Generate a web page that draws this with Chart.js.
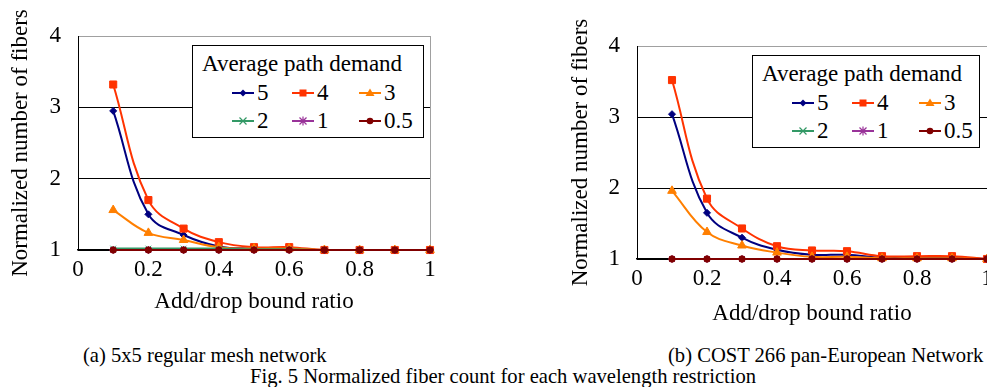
<!DOCTYPE html>
<html>
<head>
<meta charset="utf-8">
<script src="https://cdn.jsdelivr.net/npm/chart.js@4"></script>
<style>
  body { margin: 0; width: 987px; height: 387px; overflow: hidden; position: relative; background: #fff; font-family: 'Liberation Serif', serif; color: #000; }
  canvas { position: absolute; }
  .legend { position: absolute; background: #fff; border: 1.5px solid #000; box-sizing: border-box; }
  .legend span { position: absolute; white-space: nowrap; font-size: 23px; line-height: 23px; }
  .legend svg { position: absolute; }
  .caption { position: absolute; white-space: nowrap; font-size: 20.6px; line-height: 20px; }
</style>
</head>
<body>
<canvas class="meshChart" width="450" height="320" style="left:0;top:0"></canvas>
<canvas class="costChart" width="490" height="330" style="left:520px;top:0"></canvas>
<div class="legend meshLegend" style="left:192px;top:45px;width:232px;height:93px"></div>
<div class="legend costLegend" style="left:752px;top:55px;width:228px;height:93px"></div>
<div class="caption" style="left:83px;top:345px">(a) 5x5 regular mesh network</div>
<div class="caption" style="left:668px;top:345px">(b) COST 266 pan-European Network</div>
<div class="caption" style="left:250px;top:366px">Fig. 5 Normalized fiber count for each wavelength restriction</div>

<script>
const meshChart = document.querySelector('.meshChart');
const costChart = document.querySelector('.costChart');

// add/drop bound ratio on the x axis
const ratios = [0.1, 0.2, 0.3, 0.4, 0.5, 0.6, 0.7, 0.8, 0.9, 1.0];
const demands = ['5', '4', '3', '2', '1', '0.5'];
const xTicks = [0, 0.2, 0.4, 0.6, 0.8, 1];
const yTicks = [1, 2, 3, 4];

// (a) 5x5 regular mesh network
const mesh5 = [2.95, 1.50, 1.21, 1.05, 1.02, 1.01, 1.00, 1.00, 1.00, 1.00];
const mesh4 = [3.32, 1.70, 1.30, 1.11, 1.04, 1.04, 1.00, 1.00, 1.00, 1.00];
const mesh3 = [1.56, 1.24, 1.14, 1.04, 1.02, 1.02, 1.00, 1.00, 1.00, 1.00];
const mesh2 = [1.02, 1.02, 1.02, 1.02, 1.01, 1.01, 1.00, 1.00, 1.00, 1.00];
const mesh1 = [1.00, 1.00, 1.00, 1.00, 1.00, 1.00, 1.00, 1.00, 1.00, 1.00];
const mesh05 = [1.00, 1.00, 1.00, 1.00, 1.00, 1.00, 1.00, 1.00, 1.00, 1.00];

// (b) COST 266 pan-European network
const cost5 = [3.04, 1.65, 1.30, 1.13, 1.06, 1.06, 1.02, 1.02, 1.02, 1.00];
const cost4 = [3.52, 1.85, 1.43, 1.18, 1.12, 1.11, 1.04, 1.04, 1.04, 1.00];
const cost3 = [1.96, 1.38, 1.19, 1.09, 1.03, 1.03, 1.01, 1.01, 1.01, 1.00];
const cost2 = [1.00, 1.00, 1.00, 1.00, 1.00, 1.00, 1.00, 1.00, 1.00, 1.00];
const cost1 = [1.00, 1.00, 1.00, 1.00, 1.00, 1.00, 1.00, 1.00, 1.00, 1.00];
const cost05 = [1.00, 1.00, 1.00, 1.00, 1.00, 1.00, 1.00, 1.00, 1.00, 1.00];

const colors = ['#000080', '#ff3300', '#ff7f00', '#339966', '#993399', '#800000'];
const markers = ['rectRot', 'rect', 'triangle', 'crossRot', 'star', 'circle'];
const markerSizes = [3.5, 5, 5, 4, 4, 3.2];

Chart.defaults.font.family = "'Liberation Serif', serif";
Chart.defaults.color = '#000';

function makeDatasets(series) {
    return series.map((values, i) => ({
        label: demands[i],
        data: values.map((v, j) => ({ x: ratios[j], y: v })),
        borderColor: colors[i],
        backgroundColor: colors[i],
        borderWidth: 2,
        pointStyle: markers[i],
        pointRadius: markerSizes[i],
        pointBorderWidth: 1,
        tension: 0.4,
        order: series.length - i,
        clip: 10
    }));
}

function drawChart(canvas, series, box) {
    new Chart(canvas, {
        type: 'line',
        data: { datasets: makeDatasets(series) },
        options: {
            responsive: false,
            animation: false,
            layout: { padding: { top: box.top, right: box.right, left: 0, bottom: 0 } },
            plugins: { legend: { display: false }, tooltip: { enabled: false } },
            scales: {
                x: {
                    type: 'linear',
                    min: 0,
                    max: 1,
                    afterBuildTicks: s => { s.ticks = xTicks.map(v => ({ value: v })); },
                    afterFit: s => { s.height = box.xHeight; },
                    ticks: {
                        font: { size: 23 },
                        padding: 6,
                        maxRotation: 0,
                        callback: v => (v === 0 || v === 1) ? String(v) : v.toFixed(1)
                    },
                    grid: {
                        drawTicks: false,
                        color: c => (c.tick && c.tick.value === 1) ? '#a0a0a0' : 'rgba(0,0,0,0)'
                    },
                    border: { color: '#000', width: 1.5 },
                    title: {
                        display: true,
                        text: 'Add/drop bound ratio',
                        font: { size: 23 },
                        padding: { top: 0, bottom: box.xTitlePad }
                    }
                },
                y: {
                    type: 'linear',
                    min: 1,
                    max: 4,
                    afterBuildTicks: s => { s.ticks = yTicks.map(v => ({ value: v })); },
                    afterFit: s => { s.width = box.yWidth; },
                    ticks: { font: { size: 23 }, padding: 17 },
                    grid: {
                        drawTicks: false,
                        color: c => (c.tick && c.tick.value === 4) ? '#a0a0a0' : '#000'
                    },
                    border: { color: '#000', width: 1 },
                    title: {
                        display: true,
                        text: 'Normalized number of fibers',
                        font: { size: 23 },
                        padding: { top: box.yTitlePad, bottom: 0 }
                    }
                }
            }
        }
    });
}

// legend box with the little line + marker samples
function markerSvg(i) {
    const c = colors[i];
    let m = '';
    if (markers[i] === 'rectRot') m = `<polygon points="11,3.5 14.5,7 11,10.5 7.5,7" fill="${c}"/>`;
    if (markers[i] === 'rect') m = `<rect x="7.5" y="3.5" width="7" height="7" fill="${c}"/>`;
    if (markers[i] === 'triangle') m = `<polygon points="11,2.5 15.5,10 6.5,10" fill="${c}"/>`;
    if (markers[i] === 'crossRot') m = `<path d="M7.5,3.5 L14.5,10.5 M14.5,3.5 L7.5,10.5" stroke="${c}" stroke-width="1.2"/>`;
    if (markers[i] === 'star') m = `<path d="M7.5,3.5 L14.5,10.5 M14.5,3.5 L7.5,10.5 M11,2.5 L11,11.5" stroke="${c}" stroke-width="1.2"/>`;
    if (markers[i] === 'circle') m = `<circle cx="11" cy="7" r="3.3" fill="${c}"/>`;
    return `<svg width="22" height="14" viewBox="0 0 22 14"><line x1="0" y1="7" x2="22" y2="7" stroke="${c}" stroke-width="2"/>${m}</svg>`;
}

function showLegend(el) {
    const cols = [39, 99, 166];
    let html = '<span style="left:9px;top:6px">Average path demand</span>';
    demands.forEach((d, i) => {
        const x = cols[i % 3];
        const y = i < 3 ? 47 : 75;
        html += `<div style="position:absolute;left:${x}px;top:${y - 7}px;width:22px;height:14px">${markerSvg(i)}</div>`;
        html += `<span style="left:${x + 25}px;top:${y - 12}px">${d}</span>`;
    });
    el.innerHTML = html;
}

function showAll() {
    drawChart(meshChart, [mesh5, mesh4, mesh3, mesh2, mesh1, mesh05],
        { top: 36, right: 20, xHeight: 70, yWidth: 78, xTitlePad: 4, yTitlePad: 7 });
    drawChart(costChart, [cost5, cost4, cost3, cost2, cost1, cost05],
        { top: 46, right: 23, xHeight: 71, yWidth: 117, xTitlePad: 2, yTitlePad: 47 });
    showLegend(document.querySelector('.meshLegend'));
    showLegend(document.querySelector('.costLegend'));
}

// canvas text needs the serif font loaded first
document.fonts.load("23px 'Liberation Serif'").then(showAll, showAll);
</script>
</body>
</html>
